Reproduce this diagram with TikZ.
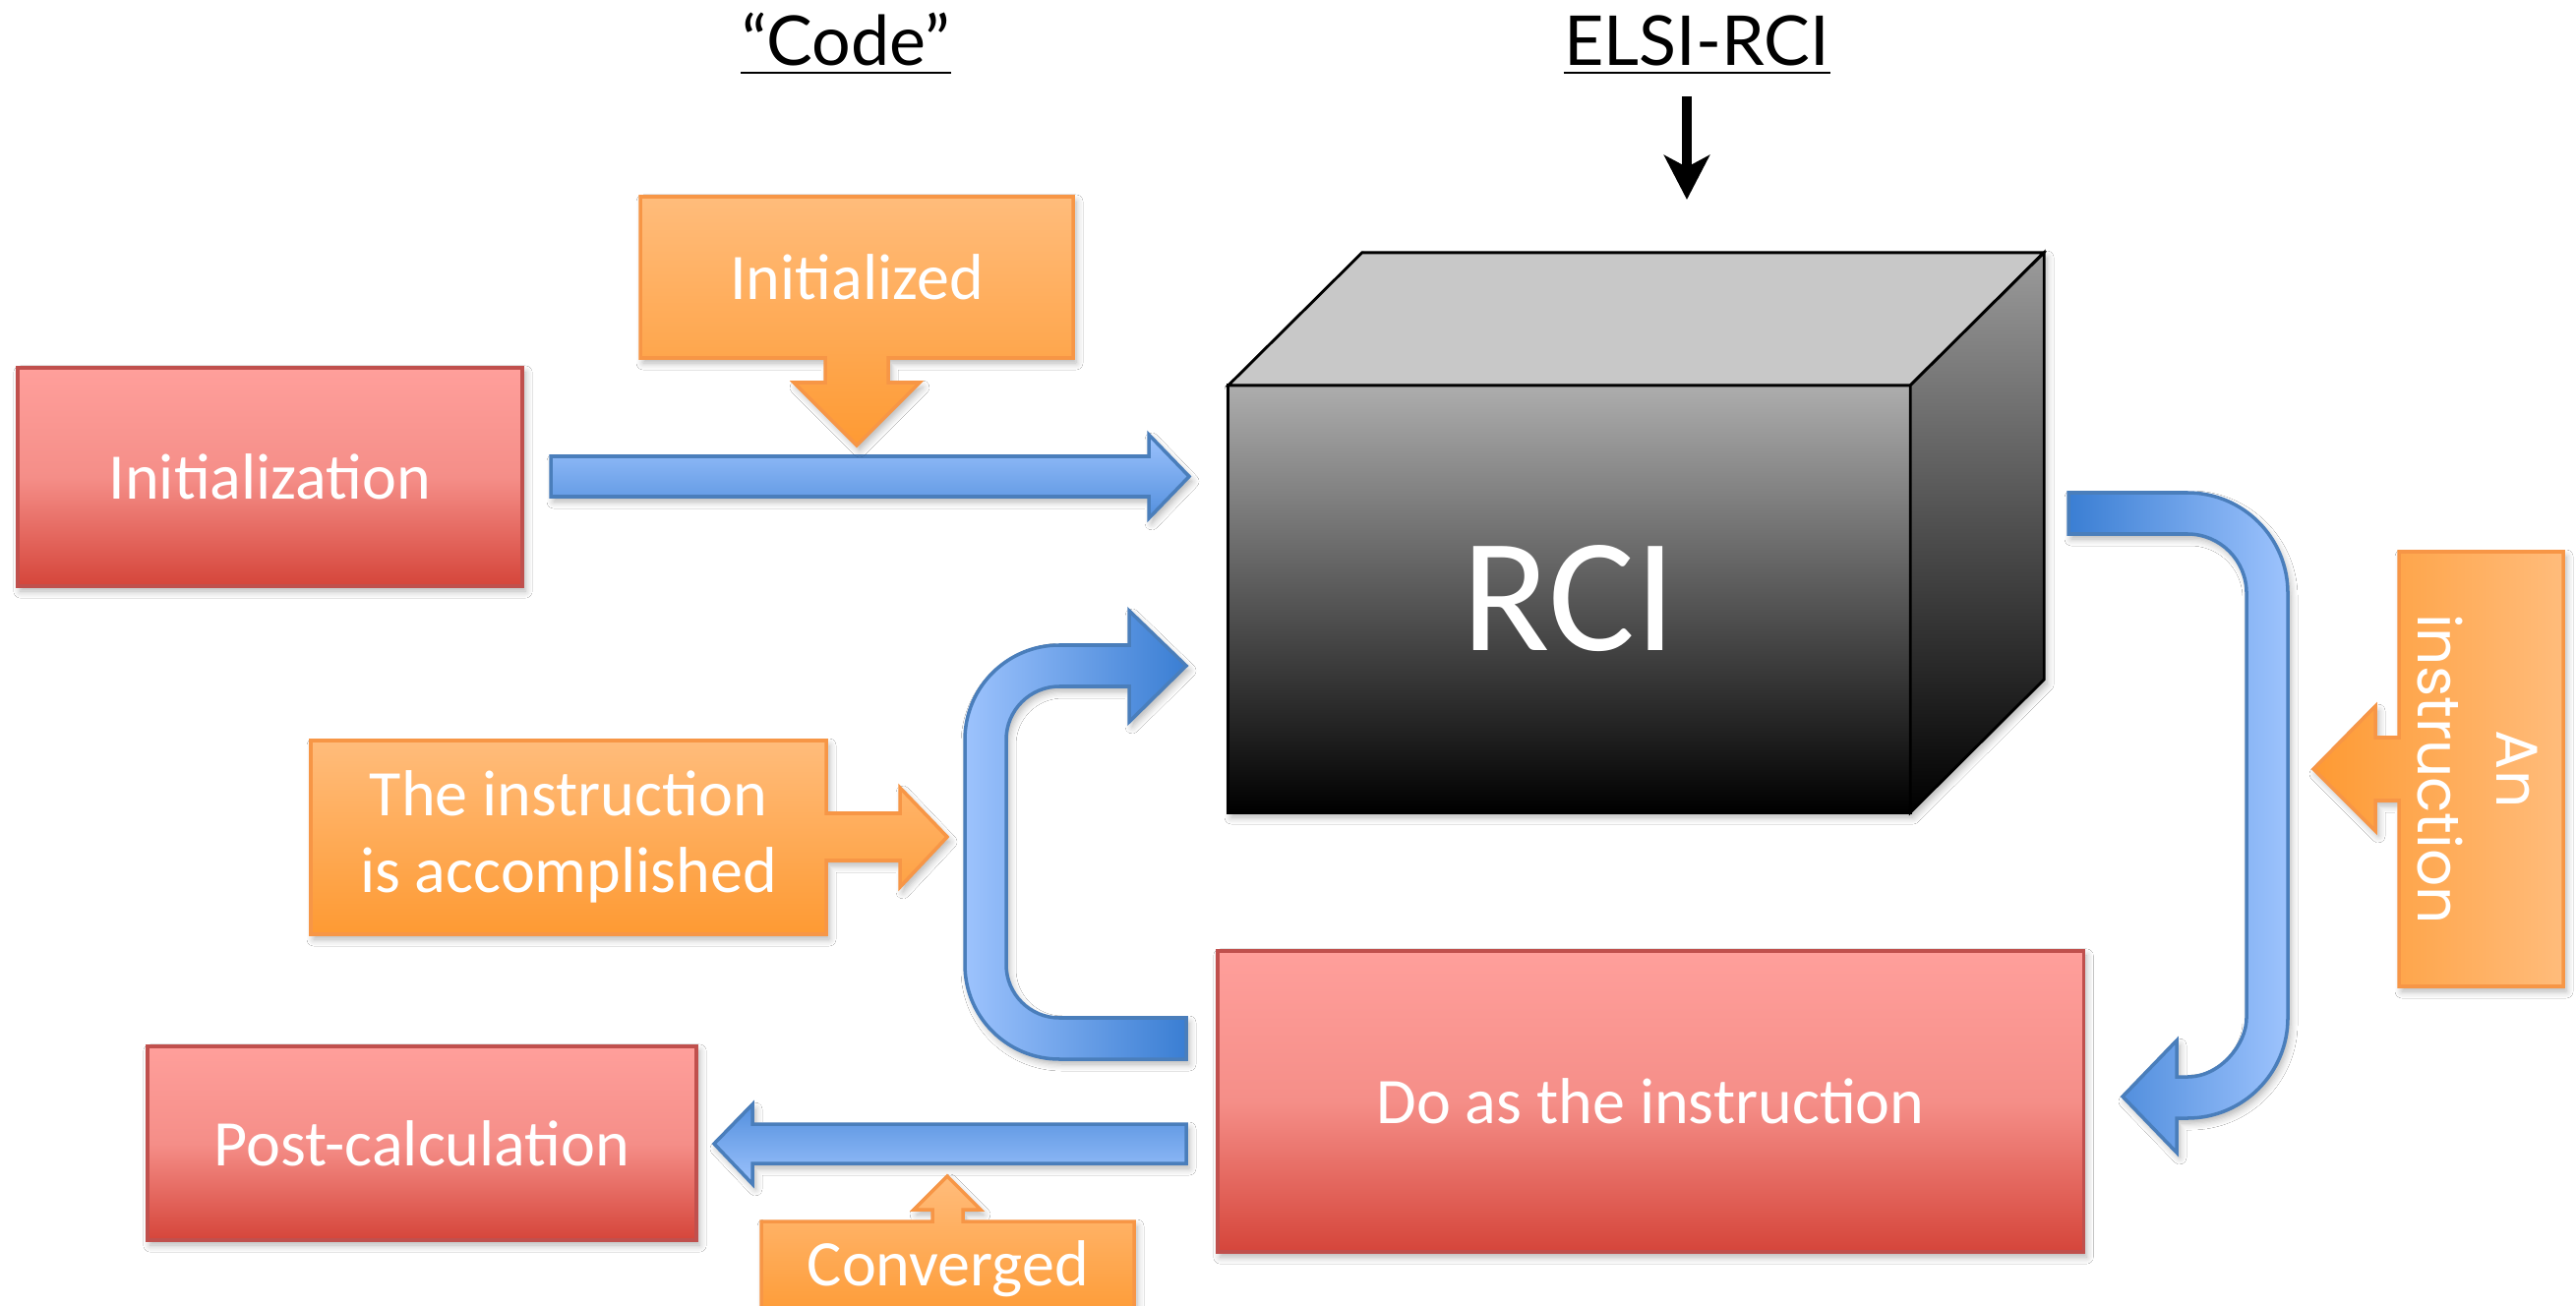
\documentclass[tikz,border=0pt]{standalone}
\usepackage{fontspec}
\setmainfont{Carlito}
\newfontfamily\titlefont{Lato}
\newfontfamily\sidefont{Poppins}
\usetikzlibrary{arrows.meta,shadows.blur}

\definecolor{redTop}{HTML}{FF9F9B}
\definecolor{redMid}{HTML}{F58E88}
\definecolor{redBot}{HTML}{D5453A}
\definecolor{redEdge}{HTML}{C0504D}
\definecolor{orgTop}{HTML}{FFBC7B}
\definecolor{orgBot}{HTML}{FE9A33}
\definecolor{orgEdge}{HTML}{F79646}
\definecolor{bluLight}{HTML}{9DC3FD}
\definecolor{bluDark}{HTML}{3A7ED3}
\definecolor{bluEdge}{HTML}{4A7EBB}
\definecolor{cubeTop}{HTML}{C8C8C8}
\definecolor{cubeFront}{HTML}{ADADAD}
\definecolor{cubeSide}{HTML}{9B9B9B}

\tikzset{
  softshadow/.style={blur shadow={shadow xshift=0.03cm, shadow yshift=-0.05cm,
      shadow blur radius=0.07cm, shadow opacity=30, shadow blur steps=6}},
  boxfont/.style={font=\fontsize{18.8}{22.2}\selectfont},
  redbox/.style={draw=redEdge, line width=1pt, top color=redTop, bottom color=redBot,
      middle color=redMid, inner sep=0pt, outer sep=0pt, text=white, boxfont, softshadow},
  callout/.style={draw=orgEdge, line width=1pt, line join=miter, softshadow},
  calltext/.style={text=white, boxfont, align=center, inner sep=0pt},
  blockarrow/.style={draw=bluEdge, line width=1pt, line join=miter, softshadow},
  titletext/.style={font=\titlefont\fontsize{19.9}{24}\selectfont, inner sep=0pt},
  cubeedge/.style={draw=black, line width=0.8pt, line join=miter},
}

\begin{document}
\begin{tikzpicture}[x=0.01cm, y=-0.01cm]
\fill[white] (0,0) rectangle (2619,1328);
\useasboundingbox (0,0) rectangle (2619,1328);

% ---------- column titles ----------
\node[titletext, anchor=base] (code) at (860,67) {“Code”};
\draw[line width=0.85pt] ([yshift=-0.07cm]code.base west) -- ([yshift=-0.07cm]code.base east);
\node[titletext, anchor=base] (elsi) at (1725,67) {ELSI-RCI};
\draw[line width=0.85pt] ([yshift=-0.07cm]elsi.base west) -- ([yshift=-0.07cm]elsi.base east);
\coordinate (elsiFrom) at (1715,98);
\coordinate (elsiTo) at (1715,203);
\draw[line width=2.8pt, -{Stealth[length=0.45cm, width=0.46cm, inset=0.12cm]}] (elsiFrom) -- (elsiTo);

% ---------- the RCI cube ----------
\path[softshadow] (1249,392) -- (1385,257) -- (2078,257) -- (2078,691) -- (1942,826) -- (1249,826) -- cycle;
\node[cubeedge, top color=cubeFront, bottom color=black, minimum width=6.93cm,
      minimum height=4.34cm, inner sep=0pt, outer sep=0pt, text=white,
      font=\fontsize{46.9}{50}\selectfont] (cube) at (1595.5,609) {RCI};
\draw[cubeedge, fill=cubeTop] (cube.north west) -- ++(136,-135) -- ++(693,0)
      -- (cube.north east) -- cycle;
\draw[cubeedge, top color=cubeSide, bottom color=black] (cube.north east) -- ++(136,-135)
      -- ++(0,434) -- (cube.south east) -- cycle;

% ---------- process boxes ----------
\node[redbox, minimum width=5.13cm, minimum height=2.22cm] (init) at (274.5,485) {Initialization};
\node[redbox, minimum width=8.80cm, minimum height=3.06cm] (doinst) at (1678,1120) {Do as the instruction};
\node[redbox, minimum width=5.58cm, minimum height=1.97cm] (post) at (429,1162.5) {Post-calculation};

% ---------- blue block arrows ----------
% Initialization -> RCI
\path[blockarrow, top color=bluLight, bottom color=bluDark!75!bluLight]
  (560,464) -- (1168,464) -- (1168,442) -- (1209,484.5) -- (1168,527) -- (1168,505) -- (560,505) -- cycle;
% Do as the instruction -> Post-calculation
\path[blockarrow, top color=bluDark!75!bluLight, bottom color=bluLight]
  (1206,1143) -- (765,1143) -- (765,1123) -- (726,1163) -- (765,1204) -- (765,1183) -- (1206,1183) -- cycle;
% RCI -> Do as the instruction
\path[blockarrow, left color=bluDark, right color=bluLight]
  (2103,501) -- (2224,501) .. controls (2280.3,501) and (2326,546.7) .. (2326,603)
  -- (2326,1035) .. controls (2326,1091.3) and (2280.3,1137) .. (2224,1137)
  -- (2213,1137) -- (2213,1172) -- (2158,1115) -- (2213,1058) -- (2213,1095)
  -- (2224,1095) .. controls (2257.1,1095) and (2284,1061.9) .. (2284,1035)
  -- (2284,603) .. controls (2284,569.9) and (2257.1,543) .. (2224,543)
  -- (2103,543) -- cycle;
% Do as the instruction -> RCI
\path[blockarrow, left color=bluLight, right color=bluDark]
  (1206,1077) -- (1077,1077) .. controls (1024,1077) and (981,1034) .. (981,981)
  -- (981,752) .. controls (981,699) and (1024,656) .. (1077,656)
  -- (1148,656) -- (1148,621) -- (1206,677) -- (1148,734) -- (1148,698)
  -- (1077,698) .. controls (1047.2,698) and (1023,722.2) .. (1023,752)
  -- (1023,981) .. controls (1023,1010.8) and (1047.2,1035) .. (1077,1035)
  -- (1206,1035) -- cycle;

% ---------- orange callouts ----------
\path[callout, top color=orgTop, bottom color=orgBot]
  (651,200) -- (1091,200) -- (1091,364) -- (903,364) -- (903,389) -- (935,389) -- (871,453)
  -- (807,389) -- (839,389) -- (839,364) -- (651,364) -- cycle;
\node[calltext] (initialized) at (871,282) {Initialized};

\path[callout, top color=orgTop, bottom color=orgBot]
  (316,753) -- (840,753) -- (840,827) -- (915,827) -- (915,801) -- (963,851) -- (915,902)
  -- (915,875) -- (840,875) -- (840,950) -- (316,950) -- cycle;
\node[calltext] (accomplished) at (578,851) {The instruction\\is accomplished};

\path[callout, left color=orgBot, right color=orgTop]
  (2439,561) -- (2606,561) -- (2606,1003) -- (2439,1003) -- (2439,814) -- (2415,814)
  -- (2415,845) -- (2352,782) -- (2415,718) -- (2415,750) -- (2439,750) -- cycle;
\node[calltext, rotate=-90, font=\sidefont\fontsize{17}{22.8}\selectfont] (aninstr) at (2519,782) {An\\instruction};

\path[callout, top color=orgTop, bottom color=orgBot]
  (774,1242) -- (948,1242) -- (948,1230) -- (929,1230) -- (963,1196) -- (997,1230)
  -- (979,1230) -- (979,1242) -- (1153,1242) -- (1153,1345) -- (774,1345) -- cycle;
\node[calltext, anchor=base] (converged) at (964,1307) {Converged};
\end{tikzpicture}
\end{document}
